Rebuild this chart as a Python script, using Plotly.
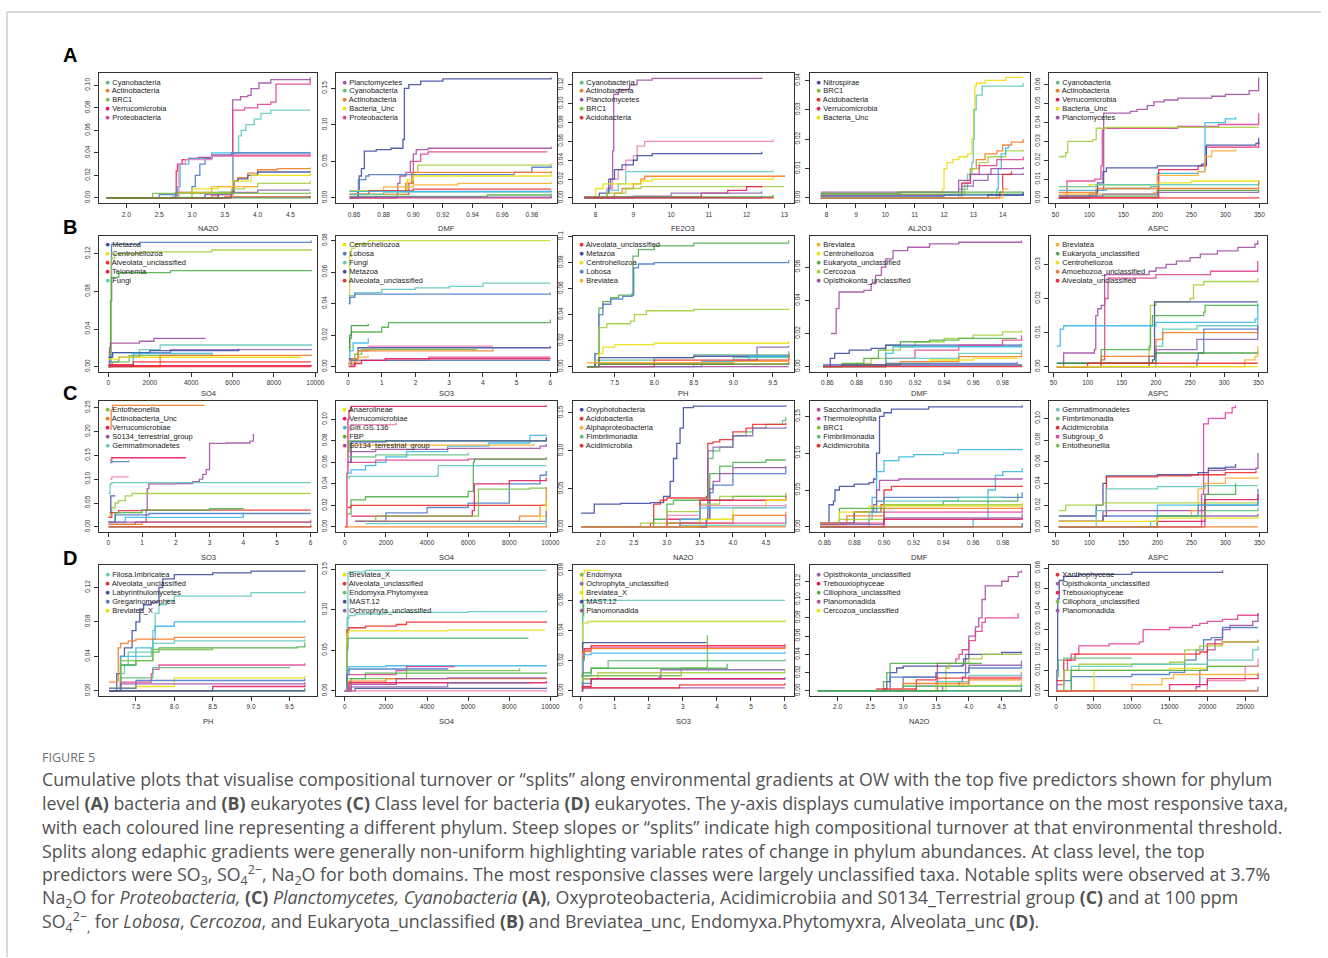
import plotly.graph_objects as go

W, H = 1328, 958

# ---------------- colours (keys used by the data lists) ----------------
PAL = {
    "purple": "#A44CA6", "pink": "#E2418F", "magenta": "#E03BA8", "crimson": "#E8185A",
    "red": "#EE2B2B", "orange": "#F47A20", "lorange": "#FDAE2F", "yellow": "#EEDF0A",
    "ygreen": "#A6CE39", "lgreen": "#77C043", "green": "#4DAF4A", "mgreen": "#5DBE7A",
    "dgreen": "#3C9A3C", "teal": "#5FC9BA", "sky": "#37B8E8", "blue": "#4A7BC8",
    "dblue": "#3F4BA3", "lpurple": "#8E63B5", "lpink": "#EF7FB5", "ycg": "#C9D930",
}

# ---------------- data: (colour key, x breakpoints, cumulative importance) ----------------
A1_LINES = [
    ("purple", [1.7, 3.6, 3.62, 3.74, 3.85, 3.9, 4.02, 4.2, 4.8], [0, 0.003, 0.087, 0.09, 0.091, 0.097, 0.102, 0.105, 0.107]),
    ("pink", [1.7, 3.6, 3.62, 3.8, 4.0, 4.2, 4.28, 4.8], [0, 0.004, 0.078, 0.08, 0.083, 0.085, 0.101, 0.105]),
    ("teal", [1.7, 3.2, 3.62, 3.71, 3.75, 3.82, 3.95, 4.05, 4.2, 4.8], [0, 0.005, 0.04, 0.055, 0.06, 0.065, 0.07, 0.075, 0.078, 0.078]),
    ("crimson", [1.7, 2.75, 2.76, 2.78, 2.85, 2.95, 3.1, 3.3, 4.8], [0, 0.002, 0.024, 0.03, 0.034, 0.035, 0.036, 0.038, 0.039]),
    ("sky", [1.7, 2.7, 2.78, 2.82, 2.95, 3.3, 4.8], [0, 0.001, 0.01, 0.03, 0.035, 0.04, 0.041]),
    ("blue", [1.7, 2.5, 2.75, 3.0, 3.05, 3.12, 3.2, 3.3, 3.6, 4.8], [0, 0.003, 0.005, 0.01, 0.02, 0.03, 0.035, 0.038, 0.04, 0.04]),
    ("lpink", [1.7, 2.8, 2.9, 3.3, 4.8], [0, 0.03, 0.034, 0.037, 0.039]),
    ("orange", [1.7, 3.3, 3.4, 3.62, 3.7, 3.85, 4.0, 4.3, 4.8], [0, 0.002, 0.003, 0.015, 0.018, 0.022, 0.025, 0.026, 0.027]),
    ("dblue", [1.7, 3.4, 3.64, 3.7, 3.85, 4.0, 4.8], [0, 0.005, 0.015, 0.017, 0.02, 0.023, 0.024]),
    ("yellow", [1.7, 3.0, 3.4, 3.62, 3.9, 4.8], [0, 0.008, 0.01, 0.015, 0.02, 0.023]),
    ("ygreen", [1.7, 3.0, 3.6, 3.8, 4.0, 4.8], [0, 0.005, 0.008, 0.01, 0.013, 0.015]),
    ("lorange", [1.7, 2.8, 3.3, 4.0], [0, 0.005, 0.01, 0.01]),
    ("lpurple", [1.7, 3.2, 3.6, 4.0, 4.8], [0, 0.003, 0.005, 0.007, 0.007]),
    ("lgreen", [1.7, 2.4, 3.6, 4.8], [0, 0.004, 0.004, 0.005]),
    ("red", [1.7, 3.5, 4.8], [0, 0.001, 0.002]),
    ("dgreen", [1.7, 4.8], [0, 0.001]),
]
A2_LINES = [
    ("dblue", [0.857, 0.862, 0.8625, 0.8635, 0.865, 0.867, 0.875, 0.885, 0.893, 0.894, 0.897, 0.905, 0.92, 0.993], [0, 0, 0.01, 0.03, 0.04, 0.064, 0.066, 0.068, 0.08, 0.15, 0.155, 0.16, 0.163, 0.165]),
    ("purple", [0.857, 0.889, 0.8895, 0.891, 0.895, 0.898, 0.9, 0.902, 0.91, 0.993], [0, 0.005, 0.02, 0.03, 0.035, 0.05, 0.06, 0.066, 0.068, 0.07]),
    ("pink", [0.857, 0.897, 0.899, 0.9, 0.905, 0.91, 0.99], [0.005, 0.02, 0.035, 0.05, 0.06, 0.063, 0.064]),
    ("ygreen", [0.857, 0.895, 0.9, 0.903, 0.993], [0.005, 0.02, 0.035, 0.045, 0.047]),
    ("blue", [0.862, 0.863, 0.868, 0.87, 0.965, 0.968, 0.98, 0.993], [0, 0.025, 0.03, 0.032, 0.032, 0.035, 0.042, 0.044]),
    ("orange", [0.857, 0.895, 0.9, 0.993], [0.01, 0.02, 0.035, 0.037]),
    ("yellow", [0.857, 0.896, 0.9, 0.993], [0.01, 0.025, 0.03, 0.034]),
    ("lorange", [0.857, 0.88, 0.9, 0.93, 0.993], [0.005, 0.015, 0.018, 0.02, 0.022]),
    ("red", [0.857, 0.87, 0.9, 0.993], [0.005, 0.01, 0.012, 0.012]),
    ("teal", [0.857, 0.88, 0.993], [0.005, 0.008, 0.01]),
    ("sky", [0.857, 0.993], [0.009, 0.01]),
    ("green", [0.857, 0.95, 0.993], [0.002, 0.004, 0.006]),
    ("crimson", [0.857, 0.993], [0, 0.003]),
    ("lpurple", [0.857, 0.993], [0.001, 0.002]),
]
A3_LINES = [
    ("purple", [7.7, 8.3, 8.35, 8.4, 8.45, 8.48, 8.6, 8.9, 9.1, 9.5, 12.4], [0, 0.005, 0.01, 0.02, 0.05, 0.11, 0.115, 0.12, 0.125, 0.127, 0.128]),
    ("lpink", [7.7, 8.3, 8.45, 8.6, 8.8, 9.0, 9.1, 9.3, 12.7], [0, 0.01, 0.02, 0.03, 0.04, 0.045, 0.055, 0.06, 0.062]),
    ("dblue", [7.7, 8.1, 8.35, 8.5, 8.7, 9.0, 9.1, 9.5, 12.4], [0, 0.005, 0.02, 0.03, 0.035, 0.04, 0.045, 0.047, 0.049]),
    ("teal", [7.7, 8.3, 8.6, 8.8, 12.7], [0, 0.008, 0.015, 0.028, 0.029]),
    ("orange", [7.7, 8.5, 8.7, 9.0, 9.2, 9.3, 13.0], [0, 0.005, 0.01, 0.015, 0.02, 0.023, 0.024]),
    ("yellow", [7.7, 8.0, 8.2, 9.2, 9.5, 12.7], [0, 0.01, 0.015, 0.018, 0.02, 0.022]),
    ("ygreen", [7.7, 8.3, 8.8, 9.2, 13.0], [0, 0.005, 0.01, 0.012, 0.012]),
    ("crimson", [7.7, 10.8, 11.5, 12.0, 12.4], [0.001, 0.005, 0.008, 0.012, 0.013]),
    ("lpurple", [7.7, 9.0, 10.0, 12.4], [0, 0.002, 0.005, 0.007]),
    ("green", [7.7, 12.7], [0.001, 0.003]),
    ("blue", [7.7, 12.4], [0, 0.002]),
    ("red", [7.7, 12.7], [0, 0.001]),
]
A4_LINES = [
    ("yellow", [7.8, 10.4, 11.95, 12.0, 12.1, 12.3, 12.5, 12.8, 12.95, 13.0, 13.05, 13.1, 13.4, 14.1, 14.7], [0.001, 0.002, 0.003, 0.01, 0.012, 0.013, 0.014, 0.015, 0.02, 0.03, 0.038, 0.039, 0.04, 0.041, 0.041]),
    ("teal", [7.8, 12.5, 12.8, 12.95, 13.0, 13.03, 13.1, 13.3, 14.7], [0, 0.003, 0.008, 0.012, 0.02, 0.03, 0.035, 0.038, 0.039]),
    ("orange", [7.8, 12.6, 12.9, 13.1, 13.4, 13.8, 14.0, 14.3, 14.7], [0, 0.005, 0.01, 0.013, 0.015, 0.016, 0.018, 0.019, 0.02]),
    ("ygreen", [7.8, 12.7, 12.9, 13.2, 13.5, 14.1, 14.7], [0.001, 0.006, 0.01, 0.012, 0.014, 0.016, 0.0165]),
    ("sky", [7.8, 13.8, 13.85, 13.95, 14.1, 14.2], [0, 0.003, 0.01, 0.015, 0.017, 0.018]),
    ("pink", [7.8, 12.6, 12.9, 13.2, 13.8, 14.7], [0.001, 0.005, 0.008, 0.011, 0.013, 0.014]),
    ("purple", [7.8, 12.5, 12.9, 13.6, 14.7], [0.002, 0.006, 0.008, 0.01, 0.0105]),
    ("lpurple", [7.8, 12.6, 13.0, 13.5, 14.7], [0.001, 0.004, 0.006, 0.008, 0.0085]),
    ("red", [7.8, 13.9, 14.0, 14.3], [0, 0.002, 0.008, 0.009]),
    ("green", [7.8, 10.5, 14.7], [0.0015, 0.002, 0.002]),
    ("lgreen", [7.8, 14.7], [0.0013, 0.0013]),
    ("blue", [7.8, 12.0, 14.7], [0.0005, 0.001, 0.002]),
    ("dblue", [7.8, 13.5, 14.7], [0, 0.001, 0.0018]),
    ("lorange", [7.8, 14.0, 14.2], [0, 0.003, 0.003]),
]
A5_LINES = [
    ("purple", [55, 110, 121, 160, 170, 185, 195, 210, 230, 280, 300, 335, 349], [0.001, 0.004, 0.045, 0.046, 0.047, 0.049, 0.051, 0.052, 0.053, 0.054, 0.055, 0.057, 0.064]),
    ("pink", [55, 67, 108, 117, 119, 121, 230, 290, 345, 349], [0, 0.009, 0.01, 0.017, 0.036, 0.037, 0.038, 0.039, 0.039, 0.045]),
    ("ygreen", [55, 65, 68, 105, 110, 125, 349], [0.022, 0.024, 0.03, 0.031, 0.037, 0.0375, 0.0375]),
    ("sky", [55, 110, 125, 190, 200, 260, 270, 300, 315], [0.004, 0.004, 0.005, 0.006, 0.013, 0.014, 0.04, 0.042, 0.043]),
    ("crimson", [55, 200, 202, 260, 272, 349], [0, 0, 0.015, 0.017, 0.027, 0.03]),
    ("dblue", [55, 100, 112, 120, 125, 200, 265, 272, 345, 349], [0, 0.002, 0.008, 0.014, 0.016, 0.017, 0.018, 0.028, 0.029, 0.032]),
    ("lorange", [55, 195, 200, 260, 270, 280, 315], [0.002, 0.003, 0.012, 0.014, 0.022, 0.025, 0.026]),
    ("yellow", [55, 100, 200, 250, 349], [0.006, 0.007, 0.008, 0.009, 0.0095]),
    ("teal", [55, 110, 349], [0.006, 0.007, 0.0085]),
    ("green", [55, 200, 349], [0.001, 0.004, 0.0045]),
    ("lpurple", [55, 120, 200, 349], [0.001, 0.002, 0.003, 0.004]),
    ("orange", [55, 110, 349], [0.003, 0.005, 0.009]),
    ("red", [55, 349], [0, 0.0005]),
]
B1_LINES = [
    ("blue", [0, 100, 120, 150, 1500, 9800], [0, 0.005, 0.07, 0.13, 0.132, 0.134]),
    ("ygreen", [0, 100, 130, 300, 1500, 5000, 9800], [0, 0.01, 0.115, 0.12, 0.122, 0.124, 0.125]),
    ("green", [0, 100, 150, 500, 3000, 9800], [0, 0.07, 0.095, 0.1, 0.102, 0.103]),
    ("purple", [0, 50, 100, 1500, 2200, 4700], [0, 0.02, 0.025, 0.027, 0.03, 0.03]),
    ("teal", [0, 100, 200, 1500, 2500, 9800], [0, 0.012, 0.015, 0.018, 0.023, 0.024]),
    ("lpurple", [0, 500, 1500, 3000, 9800], [0.005, 0.01, 0.015, 0.018, 0.019]),
    ("dblue", [0, 200, 2000, 6300], [0.01, 0.015, 0.017, 0.019]),
    ("lgreen", [0, 200, 1000, 5000], [0, 0.005, 0.012, 0.014]),
    ("yellow", [0, 500, 9300], [0.008, 0.01, 0.01]),
    ("orange", [0, 2500, 9800], [0, 0.012, 0.013]),
    ("sky", [0, 1150, 1200, 5000], [0, 0.002, 0.014, 0.015]),
    ("red", [0, 1200, 9800], [0.002, 0.005, 0.005]),
    ("crimson", [0, 9800], [0.001, 0.002]),
    ("red", [0, 9800], [0, 0]),
]
B2_LINES = [
    ("ycg", [0.02, 0.05, 0.1, 0.2, 0.6, 6], [0.045, 0.07, 0.075, 0.078, 0.08, 0.08]),
    ("teal", [0.02, 0.05, 0.2, 1.0, 2.0, 3.0, 4.0, 6], [0.04, 0.045, 0.047, 0.049, 0.05, 0.051, 0.053, 0.053]),
    ("blue", [0.02, 0.05, 0.2, 6], [0.04, 0.044, 0.046, 0.047]),
    ("green", [0.02, 0.05, 0.1, 1.0, 1.2, 6], [0.012, 0.018, 0.022, 0.025, 0.028, 0.03]),
    ("dgreen", [0.02, 0.05, 0.1, 0.6], [0.01, 0.02, 0.026, 0.027]),
    ("sky", [0.02, 0.05, 0.15, 0.6], [0.005, 0.01, 0.015, 0.018]),
    ("dblue", [0.02, 0.05, 0.3, 6], [0.003, 0.005, 0.012, 0.013]),
    ("lpink", [0.02, 0.05, 0.3, 0.6, 4.3], [0.002, 0.004, 0.01, 0.013, 0.013]),
    ("orange", [0.02, 0.1, 0.3, 4.3], [0.002, 0.005, 0.01, 0.012]),
    ("lgreen", [0.02, 0.2, 0.4, 3.8], [0.002, 0.008, 0.011, 0.012]),
    ("pink", [0.02, 0.2, 2.4, 6], [0.001, 0.004, 0.006, 0.006]),
    ("blue", [0.02, 0.1, 6], [0.002, 0.004, 0.004]),
    ("lorange", [0.02, 0.05, 0.3, 0.6], [0.001, 0.003, 0.006, 0.007]),
    ("crimson", [0.02, 0.2, 0.4, 1.1, 6], [0, 0.002, 0.004, 0.005, 0.005]),
]
B3_LINES = [
    ("green", [7.15, 7.25, 7.3, 7.35, 7.45, 7.55, 7.72, 7.73, 7.8, 8.0, 8.5, 9.7], [0, 0.01, 0.045, 0.05, 0.053, 0.055, 0.056, 0.085, 0.09, 0.093, 0.095, 0.097]),
    ("blue", [7.15, 7.25, 7.3, 7.35, 7.45, 7.6, 7.72, 7.74, 7.8, 8.0, 9.7], [0, 0.01, 0.04, 0.048, 0.052, 0.054, 0.055, 0.076, 0.079, 0.08, 0.082]),
    ("ygreen", [7.15, 7.25, 7.3, 7.4, 7.7, 7.75, 7.9, 8.5, 9.7], [0, 0.005, 0.03, 0.033, 0.035, 0.04, 0.043, 0.044, 0.045]),
    ("yellow", [7.15, 7.3, 7.35, 7.5, 8.0, 9.7], [0, 0.01, 0.015, 0.017, 0.018, 0.02]),
    ("lpurple", [7.15, 7.3, 9.0, 9.3, 9.7], [0, 0.002, 0.005, 0.015, 0.016]),
    ("mgreen", [7.15, 7.3, 8.0, 8.5, 9.7], [0, 0.005, 0.007, 0.009, 0.011]),
    ("dblue", [7.15, 7.25, 7.3, 8.5, 9.7], [0, 0.003, 0.007, 0.008, 0.009]),
    ("teal", [7.15, 8.5, 9.0, 9.7], [0, 0.003, 0.007, 0.012]),
    ("sky", [7.15, 8.6, 9.2, 9.7], [0, 0.004, 0.008, 0.01]),
    ("red", [7.15, 8.0, 9.7], [0, 0.005, 0.009]),
    ("orange", [7.15, 7.3, 9.7], [0, 0.002, 0.01]),
    ("lorange", [7.15, 9.0, 9.7], [0.003, 0.004, 0.004]),
    ("purple", [7.15, 9.7], [0, 0]),
    ("dgreen", [7.15, 7.3, 9.7], [0, 0.002, 0.003]),
]
B4_LINES = [
    ("purple", [0.8625, 0.866, 0.868, 0.875, 0.885, 0.89, 0.893, 0.897, 0.9, 0.905, 0.915, 0.93, 0.95, 0.993], [0.02, 0.035, 0.045, 0.045, 0.046, 0.05, 0.055, 0.06, 0.065, 0.07, 0.072, 0.074, 0.075, 0.076]),
    ("ygreen", [0.857, 0.88, 0.89, 0.9, 0.91, 0.92, 0.94, 0.96, 0.98, 0.993], [0, 0.002, 0.005, 0.01, 0.012, 0.015, 0.017, 0.019, 0.021, 0.022]),
    ("green", [0.857, 0.87, 0.885, 0.895, 0.9, 0.91, 0.93, 0.95, 0.99], [0, 0.002, 0.005, 0.01, 0.013, 0.015, 0.016, 0.017, 0.017]),
    ("dblue", [0.857, 0.862, 0.865, 0.875, 0.89, 0.9, 0.993], [0, 0.005, 0.008, 0.01, 0.011, 0.013, 0.013]),
    ("pink", [0.857, 0.88, 0.9, 0.92, 0.95, 0.98, 0.993], [0, 0.0, 0.005, 0.01, 0.013, 0.016, 0.019]),
    ("sky", [0.857, 0.89, 0.9, 0.905, 0.993], [0, 0, 0.008, 0.012, 0.014]),
    ("teal", [0.857, 0.87, 0.9, 0.95, 0.993], [0, 0.001, 0.005, 0.008, 0.01]),
    ("orange", [0.857, 0.87, 0.91, 0.95, 0.993], [0, 0.001, 0.003, 0.006, 0.008]),
    ("yellow", [0.857, 0.9, 0.93, 0.96, 0.99], [0, 0.002, 0.004, 0.005, 0.005]),
    ("blue", [0.857, 0.9, 0.99], [0, 0.002, 0.003]),
    ("red", [0.857, 0.993], [0, 0.001]),
    ("dblue", [0.857, 0.993], [0.001, 0.001]),
]
B5_LINES = [
    ("purple", [55, 65, 110, 112, 115, 120, 125, 190, 200, 215, 230, 250, 265, 290, 320, 345, 349], [0, 0.004, 0.005, 0.015, 0.017, 0.018, 0.027, 0.028, 0.029, 0.03, 0.031, 0.032, 0.033, 0.034, 0.035, 0.036, 0.037]),
    ("pink", [55, 120, 125, 130, 190, 200, 280, 345, 349], [0, 0.002, 0.02, 0.026, 0.026, 0.027, 0.028, 0.028, 0.031]),
    ("ygreen", [55, 190, 192, 200, 250, 255, 270, 349], [0, 0.005, 0.018, 0.019, 0.02, 0.024, 0.025, 0.026]),
    ("dblue", [55, 195, 198, 349], [0.001, 0.002, 0.019, 0.019]),
    ("green", [55, 120, 190, 192, 195, 270, 272, 349], [0, 0.005, 0.006, 0.012, 0.015, 0.016, 0.018, 0.0185]),
    ("sky", [55, 60, 65, 200, 345, 349], [0.006, 0.011, 0.012, 0.013, 0.014, 0.018]),
    ("teal", [55, 200, 210, 260, 349], [0, 0.006, 0.011, 0.012, 0.014]),
    ("blue", [55, 260, 262, 270, 349], [0, 0.002, 0.004, 0.011, 0.012]),
    ("orange", [55, 120, 200, 210, 349], [0, 0.003, 0.008, 0.01, 0.011]),
    ("lpurple", [55, 190, 200, 260, 349], [0, 0.003, 0.005, 0.008, 0.012]),
    ("dgreen", [55, 200, 349], [0.001, 0.004, 0.0045]),
    ("lorange", [55, 330, 345, 349], [0, 0.002, 0.003, 0.006]),
    ("red", [55, 100, 349], [0, 0.001, 0.001]),
    ("yellow", [55, 349], [0, 0]),
]
C1_LINES = [
    ("orange", [0.05, 0.08, 0.12, 2.85], [0.205, 0.245, 0.255, 0.255]),
    ("purple", [0.0, 0.8, 1.12, 1.15, 1.2, 2.0, 2.5, 2.7, 2.8, 2.9, 3.0, 3.5, 4.2, 4.3], [0.005, 0.01, 0.035, 0.08, 0.09, 0.091, 0.095, 0.1, 0.11, 0.12, 0.175, 0.176, 0.18, 0.195]),
    ("crimson", [0.05, 0.1, 2.3], [0.14, 0.145, 0.145]),
    ("blue", [0.05, 0.1, 0.6], [0.135, 0.137, 0.139]),
    ("lpink", [0.05, 0.1, 0.6], [0.1, 0.105, 0.105]),
    ("teal", [0.0, 0.05, 0.1, 6.0], [0.07, 0.09, 0.093, 0.093]),
    ("ygreen", [0.0, 0.05, 0.1, 0.2, 0.3, 0.5, 0.7, 6.0], [0.02, 0.03, 0.04, 0.05, 0.055, 0.065, 0.07, 0.07]),
    ("dblue", [0.05, 0.07, 0.2], [0.03, 0.065, 0.065]),
    ("red", [0.0, 0.1, 0.3, 1.0, 6.0], [0.02, 0.03, 0.034, 0.035, 0.035]),
    ("green", [0.0, 0.2, 1.0, 3.0, 4.0], [0.01, 0.03, 0.035, 0.038, 0.04]),
    ("blue", [0.0, 0.2, 1.2, 6.0], [0.01, 0.025, 0.028, 0.028]),
    ("sky", [0.0, 0.5, 4.0], [0.01, 0.02, 0.03]),
    ("orange", [0.0, 1.0, 6.0], [0.005, 0.01, 0.015]),
    ("purple", [0.0, 6.0], [0.01, 0.012]),
    ("green", [0.0, 6.0], [0.0, 0.005]),
    ("red", [0.0, 6.0], [0.0, 0.002]),
]
C2_LINES = [
    ("crimson", [0, 100, 150, 200, 300, 9800], [0, 0.05, 0.1, 0.108, 0.112, 0.113]),
    ("lpink", [100, 300, 2500], [0.09, 0.095, 0.097]),
    ("sky", [100, 300, 1000, 1500, 2000, 3000, 5000, 7000, 9000, 9800], [0.05, 0.053, 0.057, 0.06, 0.065, 0.07, 0.075, 0.078, 0.085, 0.086]),
    ("lorange", [150, 300, 9200], [0.07, 0.076, 0.077]),
    ("green", [100, 200, 9800], [0.07, 0.08, 0.083]),
    ("dblue", [150, 300, 2000, 9800], [0.06, 0.079, 0.08, 0.083]),
    ("purple", [150, 300, 1500, 5000, 9500, 9800], [0.06, 0.07, 0.072, 0.073, 0.075, 0.077]),
    ("pink", [300, 1500, 6000, 9800], [0.06, 0.062, 0.063, 0.063]),
    ("mgreen", [150, 1500, 6000], [0.065, 0.067, 0.069]),
    ("teal", [100, 200, 4500, 4550, 9800], [0.045, 0.047, 0.048, 0.057, 0.057]),
    ("green", [150, 300, 1000, 6000, 6250, 6300, 9800], [0.012, 0.025, 0.028, 0.033, 0.06, 0.063, 0.065]),
    ("blue", [500, 2000, 4000, 6000, 8000, 9500, 9800], [0.005, 0.013, 0.018, 0.022, 0.04, 0.048, 0.052]),
    ("crimson", [300, 6200, 6300, 8000, 9800], [0.01, 0.015, 0.04, 0.043, 0.046]),
    ("red", [150, 300, 9800], [0.018, 0.02, 0.02]),
    ("lgreen", [500, 1500, 6500, 9000, 9800], [0.005, 0.01, 0.035, 0.036, 0.037]),
    ("orange", [500, 8500, 9500, 9800], [0.005, 0.01, 0.02, 0.037]),
    ("yellow", [1000, 9500, 9800], [0.005, 0.01, 0.024]),
    ("lpurple", [500, 9800], [0.005, 0.015]),
    ("teal", [1000, 9800], [0.003, 0.008]),
    ("orange", [0, 9800], [0, 0.002]),
]
C3_LINES = [
    ("dblue", [1.7, 1.9, 2.3, 2.75, 2.95, 3.05, 3.1, 3.15, 3.2, 3.25, 3.4, 4.8], [0.018, 0.03, 0.031, 0.032, 0.04, 0.06, 0.09, 0.11, 0.13, 0.157, 0.159, 0.16]),
    ("mgreen", [1.7, 3.0, 3.6, 3.62, 3.7, 3.8, 4.0, 4.2, 4.3, 4.5, 4.75, 4.8], [0, 0.005, 0.01, 0.09, 0.1, 0.105, 0.12, 0.125, 0.13, 0.135, 0.14, 0.145]),
    ("red", [1.7, 2.75, 2.8, 2.9, 3.0, 3.6, 3.62, 3.7, 3.8, 4.0, 4.2, 4.3, 4.8], [0, 0.005, 0.03, 0.035, 0.038, 0.04, 0.11, 0.112, 0.115, 0.125, 0.13, 0.135, 0.137]),
    ("lpurple", [1.7, 3.6, 3.62, 3.7, 4.0, 4.3, 4.8], [0, 0.01, 0.1, 0.105, 0.12, 0.13, 0.132]),
    ("green", [1.7, 2.8, 3.0, 3.1, 3.62, 3.65, 3.8, 4.0, 4.5, 4.8], [0, 0.01, 0.03, 0.035, 0.05, 0.07, 0.08, 0.085, 0.088, 0.088]),
    ("purple", [1.7, 3.6, 3.65, 3.7, 3.8, 4.0, 4.8], [0, 0.01, 0.05, 0.06, 0.07, 0.078, 0.08]),
    ("blue", [1.7, 3.6, 3.65, 3.7, 4.0, 4.8], [0, 0.01, 0.045, 0.055, 0.07, 0.078]),
    ("ygreen", [1.7, 2.6, 3.0, 3.5, 3.8, 4.8], [0, 0.005, 0.02, 0.03, 0.04, 0.045]),
    ("lgreen", [1.7, 3.0, 3.5, 4.0, 4.8], [0, 0.005, 0.035, 0.04, 0.043]),
    ("crimson", [1.7, 3.0, 3.5, 4.8], [0, 0.01, 0.035, 0.04]),
    ("yellow", [1.7, 3.5, 4.0, 4.5, 4.8], [0, 0.01, 0.025, 0.035, 0.038]),
    ("lpink", [1.7, 3.0, 3.5, 4.8], [0, 0.015, 0.028, 0.03]),
    ("sky", [1.7, 3.2, 3.5, 4.8], [0, 0.01, 0.025, 0.027]),
    ("orange", [1.7, 3.0, 4.0, 4.8], [0, 0.005, 0.015, 0.02]),
    ("pink", [1.7, 3.2, 4.8], [0, 0.005, 0.015]),
    ("teal", [1.7, 3.2, 4.8], [0, 0.002, 0.01]),
    ("orange", [1.7, 4.8], [0, 0]),
]
C4_LINES = [
    ("dblue", [0.8625, 0.863, 0.866, 0.867, 0.87, 0.88, 0.89, 0.893, 0.895, 0.897, 0.9, 0.905, 0.93, 0.993], [0.005, 0.03, 0.035, 0.05, 0.055, 0.058, 0.06, 0.065, 0.1, 0.15, 0.155, 0.16, 0.163, 0.165]),
    ("sky", [0.857, 0.89, 0.892, 0.895, 0.9, 0.91, 0.92, 0.94, 0.95, 0.993], [0, 0.01, 0.04, 0.075, 0.09, 0.095, 0.098, 0.1, 0.105, 0.106]),
    ("sky", [0.857, 0.96, 0.97, 0.975, 0.98, 0.993], [0, 0.01, 0.05, 0.07, 0.075, 0.08]),
    ("purple", [0.857, 0.88, 0.893, 0.895, 0.897, 0.91, 0.993], [0.005, 0.02, 0.03, 0.05, 0.063, 0.065, 0.066]),
    ("red", [0.857, 0.88, 0.898, 0.9, 0.905, 0.993], [0.005, 0.02, 0.03, 0.05, 0.055, 0.056]),
    ("blue", [0.857, 0.88, 0.895, 0.9, 0.993], [0.005, 0.02, 0.035, 0.04, 0.047]),
    ("green", [0.857, 0.87, 0.9, 0.94, 0.99], [0.005, 0.025, 0.03, 0.035, 0.045]),
    ("teal", [0.857, 0.89, 0.9, 0.95, 0.98], [0.005, 0.02, 0.035, 0.04, 0.042]),
    ("yellow", [0.857, 0.87, 0.89, 0.993], [0.005, 0.02, 0.028, 0.033]),
    ("ygreen", [0.857, 0.87, 0.9, 0.993], [0.003, 0.01, 0.03, 0.031]),
    ("orange", [0.857, 0.875, 0.9, 0.993], [0.003, 0.015, 0.025, 0.027]),
    ("pink", [0.857, 0.9, 0.993], [0.005, 0.02, 0.025]),
    ("lpurple", [0.857, 0.9, 0.993], [0.003, 0.012, 0.018]),
    ("crimson", [0.857, 0.9, 0.993], [0, 0.01, 0.012]),
    ("dblue", [0.857, 0.993], [0, 0.005]),
    ("orange", [0.857, 0.993], [0, 0]),
]
C5_LINES = [
    ("magenta", [55, 260, 265, 268, 275, 300, 310, 315], [0, 0, 0.03, 0.095, 0.1, 0.105, 0.11, 0.112]),
    ("dblue", [55, 110, 120, 125, 200, 260, 275, 300, 315], [0.01, 0.02, 0.04, 0.047, 0.048, 0.05, 0.054, 0.055, 0.058]),
    ("purple", [55, 120, 270, 275, 300, 345, 348], [0.005, 0.015, 0.03, 0.052, 0.053, 0.054, 0.068]),
    ("red", [55, 120, 125, 200, 250, 300, 345], [0.005, 0.01, 0.046, 0.047, 0.048, 0.05, 0.052]),
    ("lorange", [55, 200, 250, 260, 270, 300, 348], [0, 0.01, 0.015, 0.035, 0.04, 0.045, 0.046]),
    ("teal", [55, 110, 125, 200, 270, 348], [0, 0.015, 0.035, 0.037, 0.038, 0.038]),
    ("green", [55, 200, 270, 315], [0, 0.01, 0.03, 0.04]),
    ("ygreen", [55, 65, 120, 348], [0.015, 0.02, 0.022, 0.024]),
    ("blue", [55, 120, 260, 348], [0.005, 0.01, 0.02, 0.035]),
    ("crimson", [55, 200, 270, 348], [0, 0.005, 0.025, 0.03]),
    ("sky", [55, 190, 200, 348], [0, 0.005, 0.02, 0.022]),
    ("mgreen", [55, 200, 270, 348], [0, 0.01, 0.015, 0.018]),
    ("lpurple", [55, 270, 348], [0, 0.01, 0.012]),
    ("yellow", [55, 200, 348], [0.005, 0.008, 0.01]),
    ("orange", [55, 348], [0, 0]),
]
D1_LINES = [
    ("dblue", [7.15, 7.25, 7.3, 7.35, 7.45, 7.5, 7.55, 7.6, 7.7, 7.8, 7.85, 8.0, 8.5, 9.0, 9.7], [0, 0.02, 0.04, 0.05, 0.07, 0.08, 0.095, 0.1, 0.103, 0.12, 0.13, 0.135, 0.137, 0.139, 0.14]),
    ("teal", [7.15, 7.3, 7.35, 7.5, 7.7, 7.72, 7.75, 7.8, 7.9, 8.0, 9.0, 9.7], [0, 0.02, 0.03, 0.04, 0.05, 0.07, 0.09, 0.1, 0.105, 0.11, 0.114, 0.116]),
    ("sky", [7.15, 7.3, 7.5, 7.72, 7.75, 8.0, 9.7], [0, 0.04, 0.05, 0.06, 0.075, 0.08, 0.082]),
    ("orange", [7.15, 7.25, 7.27, 7.3, 7.4, 7.5, 8.0, 9.7], [0.01, 0.012, 0.05, 0.055, 0.058, 0.06, 0.062, 0.063]),
    ("teal", [7.15, 7.3, 7.4, 7.72, 8.0, 9.7], [0, 0.03, 0.045, 0.055, 0.058, 0.06]),
    ("green", [7.15, 7.3, 7.5, 7.72, 7.8, 9.6, 9.7], [0, 0.03, 0.035, 0.045, 0.05, 0.051, 0.056]),
    ("lgreen", [7.15, 7.3, 7.72, 8.5], [0, 0.035, 0.048, 0.05]),
    ("pink", [7.15, 7.3, 7.7, 7.72, 7.8, 9.7], [0, 0.01, 0.02, 0.025, 0.03, 0.032]),
    ("mgreen", [7.15, 7.3, 7.72, 9.5], [0, 0.015, 0.027, 0.028]),
    ("yellow", [7.15, 7.5, 8.0, 9.7], [0.003, 0.005, 0.015, 0.017]),
    ("blue", [7.15, 7.5, 9.7], [0.003, 0.012, 0.014]),
    ("purple", [7.15, 7.3, 9.7], [0, 0.008, 0.01]),
    ("crimson", [7.15, 8.5, 9.7], [0, 0.005, 0.007]),
    ("dgreen", [7.15, 9.7], [0, 0.003]),
    ("dblue", [7.15, 9.7], [0, 0]),
]
D2_LINES = [
    ("teal", [0, 100, 150, 200, 1000, 9800], [0, 0.05, 0.145, 0.147, 0.149, 0.149]),
    ("teal", [0, 100, 200, 500, 2000, 6000, 9800], [0, 0.09, 0.093, 0.095, 0.097, 0.098, 0.1]),
    ("red", [0, 100, 200, 1000, 2500, 3000, 9800], [0, 0.075, 0.078, 0.08, 0.082, 0.085, 0.086]),
    ("yellow", [0, 100, 200, 5000, 9700], [0, 0.07, 0.074, 0.075, 0.076]),
    ("mgreen", [0, 100, 150, 8900], [0, 0.055, 0.065, 0.066]),
    ("sky", [0, 100, 200, 2000, 9800], [0, 0.025, 0.03, 0.031, 0.032]),
    ("pink", [0, 100, 2500, 3000, 5300], [0, 0.02, 0.025, 0.03, 0.031]),
    ("lgreen", [0, 100, 3000, 8500], [0, 0.015, 0.025, 0.028]),
    ("blue", [0, 100, 200, 5000], [0, 0.02, 0.027, 0.028]),
    ("green", [0, 300, 1000, 9800], [0, 0.015, 0.022, 0.023]),
    ("orange", [0, 200, 2000, 9800], [0, 0.012, 0.015, 0.016]),
    ("purple", [0, 300, 2500, 5000, 9800], [0, 0.008, 0.015, 0.016, 0.016]),
    ("crimson", [0, 200, 9800], [0, 0.01, 0.012]),
    ("lpurple", [0, 300, 5000, 9000], [0, 0.005, 0.01, 0.01]),
    ("dblue", [0, 500, 9800], [0, 0.003, 0.004]),
    ("lpink", [0, 9800], [0, 0.001]),
]
D3_LINES = [
    ("yellow", [0.02, 0.05, 0.1, 0.6], [0.05, 0.078, 0.08, 0.08]),
    ("green", [0.02, 0.05, 0.08], [0, 0.05, 0.058]),
    ("teal", [0.02, 0.05, 6], [0.02, 0.06, 0.06]),
    ("ycg", [0.02, 0.05, 0.2, 6], [0.02, 0.045, 0.046, 0.047]),
    ("dblue", [0.02, 0.05, 3.7], [0.01, 0.032, 0.032]),
    ("lgreen", [0.02, 0.05, 2.9, 2.95, 3.7, 3.72], [0.005, 0.01, 0.01, 0.015, 0.016, 0.037]),
    ("red", [0.02, 0.05, 0.1, 0.3, 6], [0.01, 0.022, 0.028, 0.03, 0.03]),
    ("pink", [0.02, 0.05, 0.1, 0.3, 2.3, 6], [0.01, 0.025, 0.027, 0.029, 0.029, 0.031]),
    ("orange", [0.02, 0.05, 0.3, 6], [0.01, 0.026, 0.028, 0.03]),
    ("sky", [0.02, 0.05, 0.1, 0.3, 6], [0.01, 0.02, 0.024, 0.025, 0.026]),
    ("mgreen", [0.02, 0.05, 0.3, 0.8, 6], [0.005, 0.01, 0.015, 0.02, 0.021]),
    ("green", [0.02, 0.05, 0.3, 4.3], [0.005, 0.012, 0.015, 0.018]),
    ("lpurple", [0.02, 0.05, 2.3, 2.35, 6], [0.003, 0.008, 0.009, 0.014, 0.014]),
    ("ygreen", [0.02, 0.05, 0.5, 6], [0.003, 0.008, 0.012, 0.014]),
    ("blue", [0.02, 0.05, 0.3, 6], [0.002, 0.005, 0.008, 0.009]),
    ("crimson", [0.02, 0.05, 0.3, 6], [0, 0.003, 0.008, 0.008]),
    ("purple", [0.02, 0.05, 6], [0, 0.002, 0.002]),
    ("red", [0.02, 2.9, 6], [0.002, 0.004, 0.005]),
]
D4_LINES = [
    ("purple", [1.7, 3.5, 3.6, 3.85, 3.9, 3.95, 4.0, 4.1, 4.15, 4.2, 4.25, 4.5, 4.6, 4.75, 4.8], [0, 0, 0.005, 0.01, 0.015, 0.04, 0.06, 0.07, 0.08, 0.1, 0.115, 0.12, 0.125, 0.13, 0.132]),
    ("pink", [1.7, 3.5, 3.52, 3.8, 3.85, 3.9, 4.0, 4.1, 4.2, 4.25, 4.75], [0, 0, 0.03, 0.035, 0.04, 0.045, 0.055, 0.065, 0.075, 0.08, 0.085]),
    ("dblue", [1.7, 2.7, 2.75, 2.8, 2.9, 3.0, 3.9, 3.92, 4.0, 4.5, 4.8], [0, 0.002, 0.01, 0.02, 0.025, 0.027, 0.028, 0.035, 0.04, 0.042, 0.043]),
    ("ygreen", [1.7, 3.6, 3.65, 3.7, 4.0, 4.2, 4.8], [0, 0, 0.025, 0.03, 0.035, 0.04, 0.041]),
    ("green", [1.7, 2.7, 2.75, 2.8, 4.2], [0, 0.01, 0.02, 0.03, 0.03]),
    ("lpurple", [1.7, 3.0, 3.5, 4.0, 4.8], [0, 0.015, 0.02, 0.028, 0.033]),
    ("blue", [1.7, 2.8, 3.5, 4.0, 4.8], [0, 0.015, 0.02, 0.025, 0.027]),
    ("teal", [1.7, 3.0, 3.5, 4.0, 4.8], [0, 0.005, 0.01, 0.017, 0.021]),
    ("lpink", [1.7, 3.2, 4.0, 4.8], [0, 0.005, 0.015, 0.02]),
    ("red", [1.7, 2.6, 3.2, 3.5, 4.8], [0, 0.002, 0.012, 0.014, 0.014]),
    ("orange", [1.7, 2.5, 3.0, 4.0, 4.8], [0, 0, 0.008, 0.012, 0.013]),
    ("yellow", [1.7, 2.5, 3.5, 4.8], [0, 0, 0.006, 0.01]),
    ("mgreen", [1.7, 3.0, 4.8], [0, 0.005, 0.008]),
    ("sky", [1.7, 4.8], [0, 0.005]),
    ("dgreen", [1.7, 4.8], [0, 0.003]),
]
D5_LINES = [
    ("dblue", [0, 100, 200, 400, 1000, 3000, 10000, 22000], [0, 0.01, 0.045, 0.054, 0.056, 0.057, 0.058, 0.059]),
    ("pink", [0, 1000, 1500, 2000, 3000, 7000, 11000, 11500, 15000, 18000, 19000, 20000, 22000, 24000, 26700], [0.003, 0.01, 0.015, 0.018, 0.022, 0.023, 0.024, 0.03, 0.031, 0.032, 0.033, 0.034, 0.035, 0.037, 0.038]),
    ("purple", [0, 18500, 19000, 20000, 21000, 22000, 23000, 26000, 26700], [0, 0.002, 0.01, 0.02, 0.025, 0.03, 0.032, 0.034, 0.038]),
    ("blue", [0, 1000, 2000, 10000, 15000, 17000, 18500, 19500, 20500, 22000, 26700], [0, 0.005, 0.007, 0.008, 0.009, 0.015, 0.02, 0.025, 0.026, 0.031, 0.031]),
    ("red", [0, 1000, 2500, 19000, 20000, 22000, 26700], [0.005, 0.015, 0.018, 0.019, 0.023, 0.024, 0.025]),
    ("ygreen", [0, 1000, 3000, 15000, 17000, 19000, 22000, 26700], [0, 0.01, 0.013, 0.014, 0.02, 0.022, 0.024, 0.025]),
    ("mgreen", [0, 300, 1000, 10000], [0.007, 0.015, 0.016, 0.016]),
    ("teal", [0, 2000, 10000, 20000, 26000, 26700], [0, 0.012, 0.013, 0.015, 0.02, 0.022]),
    ("yellow", [0, 5000, 15000, 20000, 26700], [0, 0.01, 0.011, 0.012, 0.012]),
    ("green", [0, 2000, 20000, 26700], [0, 0.01, 0.012, 0.013]),
    ("lpink", [0, 20000, 25000, 26700], [0, 0.005, 0.012, 0.016]),
    ("lorange", [0, 10000, 14000, 15500, 26700], [0, 0.003, 0.006, 0.008, 0.009]),
    ("crimson", [0, 15000, 20000, 26700], [0, 0.003, 0.006, 0.008]),
    ("lpurple", [0, 26700], [0, 0.002]),
    ("orange", [0, 26700], [0, 0]),
]

# ---------------- legends ----------------
A1_LEGEND = [("Cyanobacteria", "mgreen"), ("Actinobacteria", "orange"), ("BRC1", "lgreen"), ("Verrucomicrobia", "crimson"), ("Proteobacteria", "pink")]
A2_LEGEND = [("Planctomycetes", "purple"), ("Cyanobacteria", "mgreen"), ("Actinobacteria", "orange"), ("Bacteria_Unc", "yellow"), ("Proteobacteria", "pink")]
A3_LEGEND = [("Cyanobacteria", "mgreen"), ("Actinobacteria", "orange"), ("Planctomycetes", "purple"), ("BRC1", "lgreen"), ("Acidobacteria", "red")]
A4_LEGEND = [("Nitrospirae", "dblue"), ("BRC1", "lgreen"), ("Acidobacteria", "red"), ("Verrucomicrobia", "crimson"), ("Bacteria_Unc", "yellow")]
A5_LEGEND = [("Cyanobacteria", "mgreen"), ("Actinobacteria", "orange"), ("Verrucomicrobia", "crimson"), ("Bacteria_Unc", "yellow"), ("Planctomycetes", "purple")]
B1_LEGEND = [("Metazoa", "dblue"), ("Centroheliozoa", "yellow"), ("Alveolata_unclassified", "red"), ("Telonemia", "crimson"), ("Fungi", "teal")]
B2_LEGEND = [("Centroheliozoa", "yellow"), ("Lobosa", "blue"), ("Fungi", "teal"), ("Metazoa", "dblue"), ("Alveolata_unclassified", "red")]
B3_LEGEND = [("Alveolata_unclassified", "red"), ("Metazoa", "dblue"), ("Centroheliozoa", "yellow"), ("Lobosa", "blue"), ("Breviatea", "lorange")]
B4_LEGEND = [("Breviatea", "lorange"), ("Centroheliozoa", "yellow"), ("Eukaryota_unclassified", "green"), ("Cercozoa", "ygreen"), ("Opisthokonta_unclassified", "purple")]
B5_LEGEND = [("Breviatea", "lorange"), ("Eukaryota_unclassified", "green"), ("Centroheliozoa", "yellow"), ("Amoebozoa_unclassified", "orange"), ("Alveolata_unclassified", "red")]
C1_LEGEND = [("Entotheonellia", "lgreen"), ("Actinobacteria_Unc", "orange"), ("Verrucomicrobiae", "crimson"), ("S0134_terrestrial_group", "purple"), ("Gemmatimonadetes", "teal")]
C2_LEGEND = [("Anaerolineae", "yellow"), ("Verrucomicrobiae", "crimson"), ("Gitt.GS.136", "sky"), ("FBP", "green"), ("S0134_terrestrial_group", "purple")]
C3_LEGEND = [("Oxyphotobacteria", "dblue"), ("Acidobacteriia", "red"), ("Alphaproteobacteria", "lorange"), ("Fimbriimonadia", "mgreen"), ("Acidimicrobiia", "red")]
C4_LEGEND = [("Saccharimonadia", "purple"), ("Thermoleophilia", "magenta"), ("BRC1", "lgreen"), ("Fimbriimonadia", "mgreen"), ("Acidimicrobiia", "red")]
C5_LEGEND = [("Gemmatimonadetes", "teal"), ("Fimbriimonadia", "mgreen"), ("Acidimicrobiia", "red"), ("Subgroup_6", "magenta"), ("Entotheonellia", "lgreen")]
D1_LEGEND = [("Filosa.Imbricatea", "teal"), ("Alveolata_unclassified", "red"), ("Labyrinthulomycetes", "dblue"), ("Gregarinomorphea", "blue"), ("Breviatea_X", "yellow")]
D2_LEGEND = [("Breviatea_X", "yellow"), ("Alveolata_unclassified", "red"), ("Endomyxa.Phytomyxea", "mgreen"), ("MAST.12", "dblue"), ("Ochrophyta_unclassified", "lpurple")]
D3_LEGEND = [("Endomyxa", "lgreen"), ("Ochrophyta_unclassified", "lpurple"), ("Breviatea_X", "yellow"), ("MAST.12", "dblue"), ("Planomonadida", "purple")]
D4_LEGEND = [("Opisthokonta_unclassified", "lpurple"), ("Trebouxiophyceae", "crimson"), ("Ciliophora_unclassified", "green"), ("Planomonadida", "purple"), ("Cercozoa_unclassified", "yellow")]
D5_LEGEND = [("Xanthophyceae", "red"), ("Opisthokonta_unclassified", "lpurple"), ("Trebouxiophyceae", "crimson"), ("Ciliophora_unclassified", "lgreen"), ("Planomonadida", "purple")]

# ---------------- axis labels / ticks ----------------
X_LABELS = ["NA2O", "DMF", "FE2O3", "AL2O3", "ASPC",
            "SO4", "SO3", "PH", "DMF", "ASPC",
            "SO3", "SO4", "NA2O", "DMF", "ASPC",
            "PH", "SO4", "SO3", "NA2O", "CL"]
T_NA2O = [2.0, 2.5, 3.0, 3.5, 4.0, 4.5]
T_DMF = [0.86, 0.88, 0.90, 0.92, 0.94, 0.96, 0.98]
T_FE = [8, 9, 10, 11, 12, 13]
T_AL = [8, 9, 10, 11, 12, 13, 14]
T_ASPC = [50, 100, 150, 200, 250, 300, 350]
T_SO4 = [0, 2000, 4000, 6000, 8000, 10000]
T_SO3 = [0, 1, 2, 3, 4, 5, 6]
T_PH = [7.5, 8.0, 8.5, 9.0, 9.5]
T_CL = [0, 5000, 10000, 15000, 20000, 25000]
Y_TICKS = [
    [0, 0.02, 0.04, 0.06, 0.08, 0.10], [0, 0.05, 0.10, 0.15], [0, 0.02, 0.04, 0.06, 0.08, 0.10, 0.12],
    [0, 0.01, 0.02, 0.03, 0.04], [0, 0.01, 0.02, 0.03, 0.04, 0.05, 0.06],
    [0, 0.04, 0.08, 0.12], [0, 0.02, 0.04, 0.06, 0.08], [0, 0.02, 0.04, 0.06, 0.08, 0.1],
    [0, 0.02, 0.04, 0.06], [0, 0.01, 0.02, 0.03],
    [0, 0.05, 0.10, 0.15, 0.20, 0.25], [0, 0.02, 0.04, 0.06, 0.08, 0.10], [0, 0.05, 0.10, 0.15],
    [0, 0.05, 0.10, 0.15], [0, 0.02, 0.04, 0.06, 0.08, 0.10],
    [0, 0.04, 0.08, 0.12], [0, 0.05, 0.10, 0.15], [0, 0.02, 0.04, 0.06, 0.08],
    [0, 0.02, 0.04, 0.06, 0.08, 0.10, 0.12], [0, 0.01, 0.02, 0.03, 0.04, 0.05, 0.06],
]

LINES = [A1_LINES, A2_LINES, A3_LINES, A4_LINES, A5_LINES,
         B1_LINES, B2_LINES, B3_LINES, B4_LINES, B5_LINES,
         C1_LINES, C2_LINES, C3_LINES, C4_LINES, C5_LINES,
         D1_LINES, D2_LINES, D3_LINES, D4_LINES, D5_LINES]
LEGENDS = [A1_LEGEND, A2_LEGEND, A3_LEGEND, A4_LEGEND, A5_LEGEND,
           B1_LEGEND, B2_LEGEND, B3_LEGEND, B4_LEGEND, B5_LEGEND,
           C1_LEGEND, C2_LEGEND, C3_LEGEND, C4_LEGEND, C5_LEGEND,
           D1_LEGEND, D2_LEGEND, D3_LEGEND, D4_LEGEND, D5_LEGEND]
X_TICKS = [T_NA2O, T_DMF, T_FE, T_AL, T_ASPC,
           T_SO4, T_SO3, T_PH, T_DMF, T_ASPC,
           T_SO3, T_SO4, T_NA2O, T_DMF, T_ASPC,
           T_PH, T_SO4, T_SO3, T_NA2O, T_CL]

# ---------------- layout geometry (pixels) ----------------
COLS = [(100, 319), (338, 560), (576, 798), (814, 1035), (1055, 1274)]
ROWS = [(68, 199), (232, 369), (398, 530), (564, 695)]
XLAB_Y = [225, 391, 556, 721]
X_RANGES = [
    [1.591, 4.909], [0.848, 0.997], [7.40, 13.25], [7.424, 14.915], [41.2, 361.7],
    [-433, 10096], [-0.35, 6.2], [6.972, 9.765], [0.8479, 0.9985], [44.2, 363],
    [-0.266, 6.198], [-421, 10324], [1.578, 4.922], [0.850, 0.998], [41.2, 361.7],
    [7.025, 9.863], [-421, 10324], [-0.234, 6.26], [1.576, 4.924], [-888, 27923],
]

AXFONT = "Liberation Sans, Arial, sans-serif"


def fmt_x(v, ticks):
    if ticks is T_DMF:
        return f"{v:.2f}"
    if ticks is T_NA2O or ticks is T_PH:
        return f"{v:.1f}"
    return f"{int(v)}"


def fmt_y(v, k):
    if k == 7 and abs(v - 0.1) < 1e-9:
        return "0.1"
    return f"{v:.2f}"


fig = go.Figure()
annotations = []

for k in range(20):
    r, c = divmod(k, 5)
    x0, x1 = COLS[c]
    y0, y1 = ROWS[r]
    sfx = "" if k == 0 else str(k + 1)
    for ck, xs, ys in LINES[k]:
        fig.add_trace(go.Scatter(
            x=xs, y=ys, mode="lines", line=dict(color=PAL[ck], width=1.3, shape="hv"),
            opacity=0.88, showlegend=False, hoverinfo="skip",
            xaxis="x" + sfx, yaxis="y" + sfx))
    ally = [v for _, _, ys in LINES[k] for v in ys]
    ymin, ymax = min(ally), max(ally)
    span = ymax - ymin
    yr = [ymin - 0.04 * span, ymax + 0.04 * span]
    xt = X_TICKS[k]
    yt = Y_TICKS[k]
    common = dict(showline=True, mirror=True, linecolor="#333333", linewidth=1,
                  ticks="outside", ticklen=4, tickcolor="#333333", showgrid=False,
                  zeroline=False, tickfont=dict(family=AXFONT, size=6.5, color="#333333"),
                  fixedrange=True)
    fig.layout["xaxis" + sfx] = dict(
        domain=[x0 / W, x1 / W], anchor="y" + sfx, range=X_RANGES[k],
        tickmode="array", tickvals=xt, ticktext=[fmt_x(v, xt) for v in xt],
        ticklabelstandoff=1, **common)
    fig.layout["yaxis" + sfx] = dict(
        domain=[1 - y1 / H, 1 - y0 / H], anchor="x" + sfx, range=yr,
        tickmode="array", tickvals=yt, ticktext=[fmt_y(v, k) for v in yt],
        tickangle=-90, ticklabelstandoff=2, **common)
    # legend (R-style, drawn as text)
    for i, (name, ck) in enumerate(LEGENDS[k]):
        py = y0 + 9 + 9 * i
        annotations.append(dict(
            x=(x0 + 4) / W, y=1 - py / H, xref="paper", yref="paper",
            xanchor="left", yanchor="middle", showarrow=False,
            text=f'<span style="color:{PAL[ck]};font-size:8.5px">●</span> {name}',
            font=dict(family=AXFONT, size=7.5, color="#222222")))
    # x axis label
    annotations.append(dict(
        x=((x0 + x1) / 2) / W, y=1 - XLAB_Y[r] / H, xref="paper", yref="paper",
        xanchor="center", yanchor="middle", showarrow=False, text=X_LABELS[k],
        font=dict(family=AXFONT, size=7.5, color="#333333")))

# panel letters
for letter, px, py in [("A", 70, 50), ("B", 70, 223), ("C", 70, 390), ("D", 70, 556)]:
    annotations.append(dict(x=px / W, y=1 - py / H, xref="paper", yref="paper",
                            xanchor="center", yanchor="middle", showarrow=False,
                            text=f"<b>{letter}</b>",
                            font=dict(family=AXFONT, size=20, color="#000000")))

# caption
CAPTION_TITLE = "FIGURE 5"
CAPTION_LINES = [
    "Cumulative plots that visualise compositional turnover or “splits” along environmental gradients at OW with the top five predictors shown for phylum",
    "level <b>(A)</b> bacteria and <b>(B)</b> eukaryotes <b>(C)</b> Class level for bacteria <b>(D)</b> eukaryotes. The y-axis displays cumulative importance on the most responsive taxa,",
    "with each coloured line representing a different phylum. Steep slopes or “splits” indicate high compositional turnover at that environmental threshold.",
    "Splits along edaphic gradients were generally non-uniform highlighting variable rates of change in phylum abundances. At class level, the top",
    "predictors were SO<sub>3</sub>, SO<sub>4</sub><sup>2−</sup>, Na<sub>2</sub>O for both domains. The most responsive classes were largely unclassified taxa. Notable splits were observed at 3.7%",
    "Na<sub>2</sub>O for <i>Proteobacteria,</i> <b>(C)</b> <i>Planctomycetes, Cyanobacteria</i> <b>(A)</b>, Oxyproteobacteria, Acidimicrobiia and S0134_Terrestrial group <b>(C)</b> and at 100 ppm",
    "SO<sub>4</sub><sup>2−</sup><sub>,</sub> for <i>Lobosa</i>, <i>Cercozoa</i>, and Eukaryota_unclassified <b>(B)</b> and Breviatea_unc, Endomyxa.Phytomyxra, Alveolata_unc <b>(D)</b>.",
]
CAPFONT = "Open Sans, Lato, sans-serif"
annotations.append(dict(x=40 / W, y=1 - 757 / H, xref="paper", yref="paper",
                        xanchor="left", yanchor="middle", showarrow=False, text=CAPTION_TITLE,
                        font=dict(family=CAPFONT, size=12.5, color="#6f6f6f")))
for i, line in enumerate(CAPTION_LINES):
    annotations.append(dict(x=40 / W, y=1 - (779 + 24 * i) / H, xref="paper", yref="paper",
                            xanchor="left", yanchor="middle", showarrow=False, text=line,
                            font=dict(family=CAPFONT, size=17.8, color="#525252")))

shapes = [
    dict(type="line", xref="paper", yref="paper", x0=7 / W, x1=1, y0=1 - 7 / H, y1=1 - 7 / H,
         line=dict(color="#b5b5b5", width=1)),
    dict(type="line", xref="paper", yref="paper", x0=7 / W, x1=7 / W, y0=0, y1=1 - 7 / H,
         line=dict(color="#b5b5b5", width=1)),
]

fig.update_layout(width=W, height=H, margin=dict(l=0, r=0, t=0, b=0),
                  paper_bgcolor="white", plot_bgcolor="white",
                  annotations=annotations, shapes=shapes, showlegend=False)

fig.write_html("out.html")
